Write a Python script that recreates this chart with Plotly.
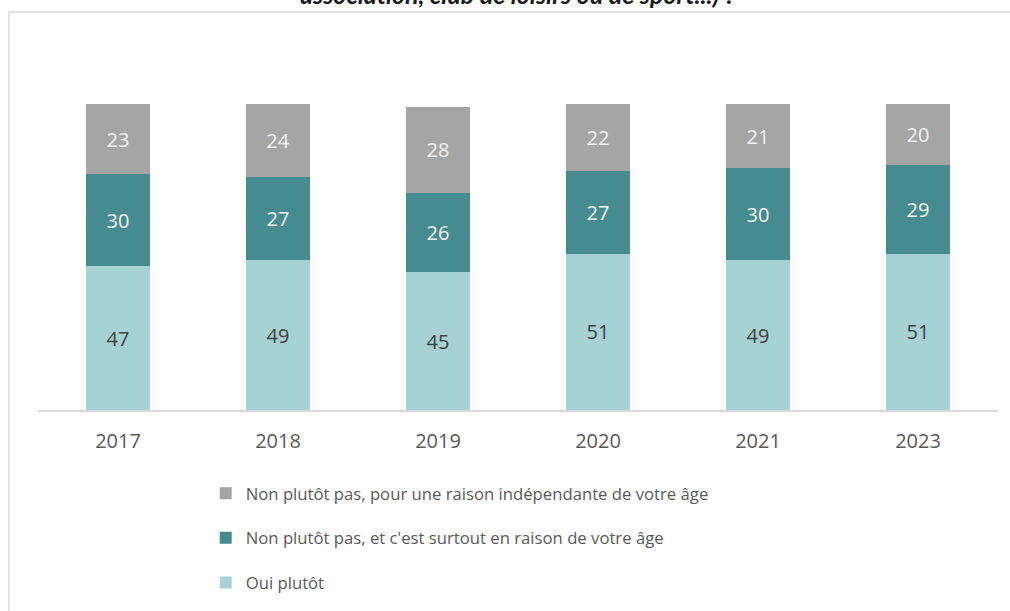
import plotly.graph_objects as go

years = ["2017", "2018", "2019", "2020", "2021", "2023"]
oui = [47, 49, 45, 51, 49, 51]
non_age = [30, 27, 26, 27, 30, 29]
non_autre = [23, 24, 28, 22, 21, 20]

names = [
    "Oui plutôt",
    "Non plutôt pas, et c'est surtout en raison de votre âge",
    "Non plutôt pas, pour une raison indépendante de votre âge",
]
colors = ["#A6D1D5", "#468B8F", "#A5A5A5"]
label_colors = ["#404040", "#F2F2F2", "#F2F2F2"]

font = "Open Sans"

fig = go.Figure()
for i, vals in enumerate([oui, non_age, non_autre]):
    fig.add_trace(go.Bar(
        x=years, y=vals, name=names[i], legendgroup=str(i), legendrank=3 - i,
        marker=dict(color=colors[i], line=dict(width=0)),
        text=vals, textposition="inside", insidetextanchor="middle",
        textfont=dict(family=font, size=20, color=label_colors[i]),
        width=0.4, hoverinfo="skip",
    ))

fig.update_layout(
    barmode="stack",
    width=1010, height=611,
    margin=dict(l=38, r=12, t=104, b=201, autoexpand=False),
    paper_bgcolor="white", plot_bgcolor="white",
    showlegend=True,
    legend=dict(
        orientation="v", traceorder="grouped", tracegroupgap=20,
        x=0.1747, y=-0.215, xanchor="left", yanchor="top",
        font=dict(family=font, size=16.7, color="#595959"),
        itemclick=False,
    ),
    xaxis=dict(
        type="category", range=[-0.5, 5.5], showgrid=False,
        showline=True, linecolor="#D9D9D9", linewidth=1.5,
        ticks="", ticklabelstandoff=12,
        tickfont=dict(family=font, size=20, color="#595959"),
    ),
    yaxis=dict(range=[0, 100], visible=False),
    uniformtext=dict(minsize=20, mode="show"),
)

# cadre du graphique
fig.add_shape(type="rect", xref="paper", yref="paper",
              x0=-0.0302, x1=1.02, y0=-0.7, y1=1.3007,
              line=dict(color="#D9D9D9", width=1.5), layer="below")

# titre, coupé en haut comme dans l'original
fig.add_annotation(
    text="<b><i>association, club de loisirs ou de sport...) ?</i></b>",
    xref="paper", yref="paper", x=0.5, y=1.305,
    xanchor="center", yanchor="bottom", showarrow=False,
    font=dict(family="Lato", size=25, color="#1A1A1A"),
)

# pas de marge autour de la page, pas de barre d'outils
fig.write_html("out.html", config={"displayModeBar": False},
               post_script="document.body.style.margin='0';")
